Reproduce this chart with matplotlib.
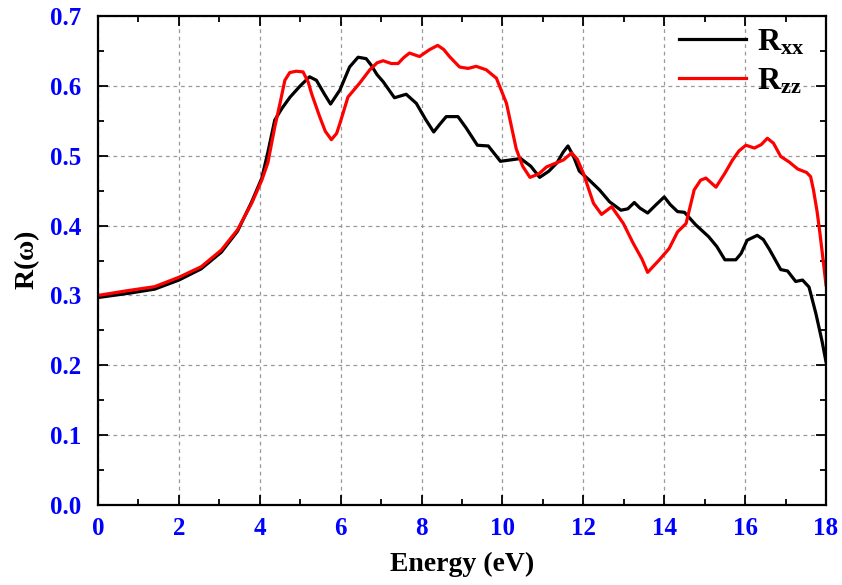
import matplotlib as mpl
mpl.use('Agg')
import matplotlib.pyplot as plt
from matplotlib.ticker import MultipleLocator

mpl.rcParams['font.family'] = 'Liberation Serif'
mpl.rcParams['font.weight'] = 'bold'
mpl.rcParams['axes.labelweight'] = 'bold'
mpl.rcParams['mathtext.fontset'] = 'custom'
mpl.rcParams['mathtext.rm'] = 'Liberation Serif:bold'
mpl.rcParams['mathtext.it'] = 'Liberation Serif:bold'
mpl.rcParams['mathtext.bf'] = 'Liberation Serif:bold'

# reflectivity along x and z
energy_xx = [0, 0.75, 1.4, 2.0, 2.55, 3.05, 3.45, 3.8, 4.05, 4.2, 4.37, 4.55, 4.75, 5.0,
             5.23, 5.4, 5.6, 5.75, 5.98, 6.22, 6.43, 6.63, 6.75, 6.9, 7.05, 7.33, 7.62,
             7.87, 8.1, 8.3, 8.45, 8.61, 8.9, 9.1, 9.38, 9.65, 9.95, 10.2, 10.45, 10.7,
             10.92, 11.15, 11.35, 11.5, 11.62, 11.75, 11.9, 12.15, 12.4, 12.65, 12.93,
             13.1, 13.26, 13.4, 13.59, 13.8, 14.0, 14.15, 14.33, 14.5, 14.78, 15.1, 15.3,
             15.5, 15.77, 15.9, 16.05, 16.3, 16.45, 16.6, 16.88, 17.05, 17.25, 17.42,
             17.58, 17.75, 17.9, 18.0]
r_xx = [0.297, 0.303, 0.309, 0.322, 0.338, 0.362, 0.392, 0.434, 0.468, 0.505, 0.551,
        0.568, 0.584, 0.600, 0.613, 0.608, 0.588, 0.574, 0.594, 0.627, 0.641, 0.639,
        0.630, 0.616, 0.606, 0.583, 0.588, 0.575, 0.552, 0.534, 0.545, 0.556, 0.556,
        0.540, 0.515, 0.514, 0.492, 0.494, 0.496, 0.485, 0.469, 0.478, 0.490, 0.505,
        0.514, 0.500, 0.478, 0.465, 0.451, 0.434, 0.422, 0.424, 0.433, 0.425, 0.418,
        0.430, 0.441, 0.430, 0.420, 0.419, 0.401, 0.384, 0.370, 0.351, 0.351, 0.360,
        0.379, 0.386, 0.380, 0.366, 0.337, 0.335, 0.320, 0.322, 0.312, 0.274, 0.235,
        0.205]

energy_zz = [0, 0.75, 1.4, 2.0, 2.55, 3.05, 3.45, 3.8, 4.05, 4.2, 4.37, 4.5, 4.62, 4.74,
             4.9, 5.07, 5.2, 5.28, 5.48, 5.62, 5.77, 5.9, 5.98, 6.18, 6.47, 6.72, 6.9,
             7.05, 7.25, 7.42, 7.55, 7.70, 7.95, 8.2, 8.40, 8.55, 8.69, 8.94, 9.15, 9.35,
             9.60, 9.85, 10.1, 10.34, 10.5, 10.68, 10.9, 11.09, 11.3, 11.51, 11.71, 11.85,
             12.0, 12.25, 12.45, 12.70, 12.99, 13.23, 13.45, 13.59, 13.88, 14.12, 14.33,
             14.54, 14.74, 14.9, 15.03, 15.28, 15.5, 15.69, 15.85, 16.02, 16.23, 16.4,
             16.55, 16.7, 16.88, 17.09, 17.30, 17.52, 17.62, 17.69, 17.78, 17.85, 17.93,
             18.0]
r_zz = [0.300, 0.307, 0.3125, 0.326, 0.341, 0.365, 0.394, 0.432, 0.465, 0.49, 0.541,
        0.575, 0.608, 0.619, 0.621, 0.620, 0.605, 0.589, 0.556, 0.535, 0.523, 0.532,
        0.546, 0.584, 0.604, 0.623, 0.633, 0.636, 0.632, 0.632, 0.640, 0.647, 0.642,
        0.652, 0.658, 0.652, 0.642, 0.627, 0.625, 0.628, 0.623, 0.611, 0.575, 0.51,
        0.485, 0.469, 0.474, 0.484, 0.489, 0.494, 0.504, 0.495, 0.475, 0.432, 0.416,
        0.427, 0.403, 0.375, 0.352, 0.333, 0.351, 0.367, 0.391, 0.403, 0.451, 0.465,
        0.468, 0.455, 0.475, 0.494, 0.507, 0.515, 0.511, 0.516, 0.525, 0.518, 0.499,
        0.491, 0.481, 0.476, 0.470, 0.451, 0.420, 0.389, 0.350, 0.315]

fig = plt.figure(figsize=(8.42, 5.85), dpi=100)
ax = fig.add_axes([0.1164, 0.1368, 0.8646, 0.8358])

ax.plot(energy_xx, r_xx, color='black', lw=2.3, solid_joinstyle='round',
        label=r'$R_{xx}$')
ax.plot(energy_zz, r_zz, color='red', lw=2.3, solid_joinstyle='round',
        label=r'$R_{zz}$')

ax.set_xlim(0, 18)
ax.set_ylim(0, 0.7)
ax.xaxis.set_major_locator(MultipleLocator(2))
ax.xaxis.set_minor_locator(MultipleLocator(1))
ax.yaxis.set_major_locator(MultipleLocator(0.1))
ax.yaxis.set_minor_locator(MultipleLocator(0.05))
ax.yaxis.set_major_formatter(mpl.ticker.FormatStrFormatter('%.1f'))

ax.grid(which='major', color='#999999', ls=(0, (3, 3)), lw=0.9)
ax.tick_params(which='both', direction='in', top=True, right=True, width=1.3,
               colors='black', labelcolor='blue', labelsize=18)
ax.tick_params(which='major', length=7)
ax.tick_params(which='minor', length=4.5)
ax.tick_params(axis='x', pad=9)
ax.tick_params(axis='y', pad=12)
for sp in ax.spines.values():
    sp.set_linewidth(1.6)

ax.set_xlabel('Energy (eV)', fontsize=20, labelpad=8)
ax.set_ylabel(r'R($\omega$)', fontsize=20, labelpad=6)

ax.legend(loc='upper right', frameon=False, fontsize=23, handlelength=2.1,
          handletextpad=0.35, labelspacing=0.3, borderaxespad=0.15,
          bbox_to_anchor=(0.995, 1.012))

fig.savefig('out.png', dpi=100)
